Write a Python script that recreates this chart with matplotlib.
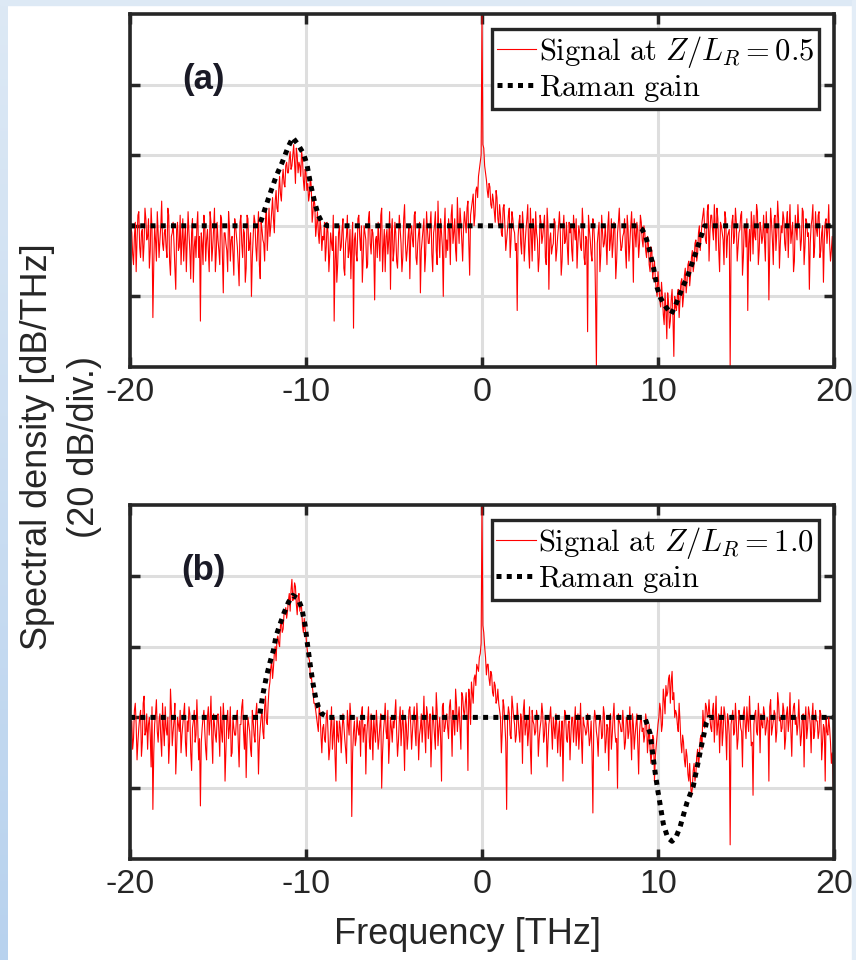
import numpy as np
import matplotlib
matplotlib.use('Agg')
import matplotlib.pyplot as plt

plt.rcParams['font.family'] = ['Liberation Sans', 'DejaVu Sans']
plt.rcParams['mathtext.fontset'] = 'cm'
plt.rcParams['axes.unicode_minus'] = False

# ---- data (y in 0..100 = 5 divisions of 20 dB) ----
freq = np.linspace(-20, 20, 401)           # samples on the 0.1 THz grid
freq_mid = np.linspace(-19.95, 19.95, 400)  # samples half-way between them

# signal at Z/L_R = 0.5, one row per THz
signal_a = [
    33, 38, 29, 41, 36, 44, 31, 39, 35, 42,
    37, 28, 45, 14, 40, 30, 38, 36, 47, 33,
    39, 31, 43, 26, 38, 35, 22, 41, 34, 29,
    42, 36, 27, 44, 33, 38, 24, 37, 40, 31,
    13, 35, 43, 30, 39, 27, 41, 34, 45, 32,
    36, 29, 42, 21, 38, 33, 44, 30, 37, 26,
    40, 34, 23, 43, 31, 38, 28, 42, 35, 20,
    37, 41, 30, 44, 25, 39, 35, 42, 33, 45,
    40, 48, 38, 50, 44, 54, 47, 56, 51, 58,
    55, 61, 57, 63, 52, 60, 58, 54, 59, 50,
    55, 52, 49, 51, 44, 46, 40, 38, 42, 33,
    36, 30, 41, 27, 38, 33, 13, 37, 29, 40,
    34, 42, 26, 37, 31, 39, 35, 11, 38, 30,
    43, 33, 24, 40, 36, 29, 44, 32, 38, 19,
    37, 41, 30, 45, 34, 27, 39, 36, 22, 42,
    33, 38, 28, 43, 35, 31, 46, 30, 37, 25,
    40, 34, 44, 29, 38, 21, 36, 42, 32, 39,
    35, 44, 27, 40, 33, 47, 31, 38, 20, 45,
    36, 42, 29, 46, 38, 33, 48, 35, 41, 30,
    44, 38, 47, 26, 45, 49, 43, 51, 54, 58,
    100,
    62, 55, 50, 52, 46, 49, 44, 50, 42, 46,
    38, 45, 40, 36, 43, 31, 44, 39, 33, 16,
    41, 35, 44, 30, 39, 46, 28, 37, 42, 33,
    38, 27, 43, 35, 40, 31, 45, 22, 38, 34,
    42, 30, 37, 44, 26, 39, 35, 41, 29, 38,
    33, 43, 36, 28, 40, 34, 45, 31, 37, 10,
    39, 32, 42, 35, 0, 38, 27, 43, 34, 40,
    29, 44, 36, 31, 41, 25, 38, 45, 33, 37,
    42, 28, 39, 35, 44, 24, 38, 41, 31, 43,
    36, 40, 33, 37, 29, 34, 25, 30, 22, 27,
    19, 24, 15, 21, 8, 18, 13, 22, 3, 17,
    20, 14, 24, 17, 26, 21, 29, 23, 31, 27,
    35, 30, 38, 33, 41, 45, 36, 44, 30, 43,
    39, 46, 33, 42, 27, 40, 36, 44, 31, 38,
    0, 41, 35, 45, 30, 38, 43, 26, 40, 34,
    16, 39, 44, 32, 37, 46, 29, 41, 35, 43,
    30, 38, 19, 45, 36, 42, 33, 47, 28, 40,
    44, 35, 41, 31, 46, 38, 27, 43, 36, 40,
    33, 45, 29, 42, 37, 22, 40, 46, 34, 39,
    43, 31, 38, 24, 41, 35, 46, 30, 37, 10,
]
signal_a_mid = [
    40, 32, 37, 27, 43, 34, 38, 30, 45, 36,
    42, 33, 39, 29, 36, 44, 31, 40, 35, 38,
    34, 45, 30, 37, 41, 28, 39, 33, 43, 36,
    30, 40, 35, 38, 25, 42, 34, 31, 44, 37,
    38, 29, 40, 36, 33, 44, 30, 39, 27, 41,
    33, 43, 31, 38, 35, 27, 40, 36, 32, 42,
    37, 29, 41, 35, 39, 24, 43, 33, 38, 31,
    43, 34, 38, 29, 41, 36, 30, 45, 39, 37,
    44, 42, 47, 45, 50, 49, 53, 52, 57, 55,
    59, 56, 60, 58, 62, 55, 57, 61, 53, 56,
    50, 47, 54, 41, 48, 37, 44, 35, 39, 37,
    41, 34, 38, 32, 35, 43, 30, 24, 38, 33,
    39, 28, 35, 43, 33, 25, 41, 36, 32, 42,
    37, 40, 31, 38, 28, 42, 35, 39, 33, 36,
    31, 35, 43, 27, 39, 37, 32, 44, 38, 30,
    41, 30, 36, 39, 27, 42, 35, 33, 40, 37,
    36, 43, 31, 35, 41, 33, 39, 27, 44, 35,
    40, 32, 38, 44, 29, 37, 42, 34, 39, 31,
    33, 39, 43, 35, 42, 30, 40, 45, 36, 39,
    41, 45, 35, 43, 47, 40, 50, 48, 56, 60,
    63, 57, 53, 48, 51, 45, 47, 41, 48, 40,
    43, 37, 46, 33, 39, 45, 36, 42, 38, 35,
    37, 43, 32, 40, 35, 42, 33, 45, 30, 39,
    44, 36, 31, 41, 37, 43, 29, 40, 36, 32,
    35, 41, 33, 40, 38, 30, 43, 36, 34, 41,
    40, 30, 39, 42, 35, 38, 33, 40, 29, 36,
    43, 36, 30, 40, 20, 35, 41, 32, 38, 35,
    36, 40, 33, 42, 35, 39, 30, 41, 37, 34,
    38, 33, 43, 30, 40, 36, 42, 34, 39, 35,
    41, 34, 38, 31, 35, 27, 33, 28, 25, 20,
    23, 17, 20, 12, 16, 21, 11, 19, 14, 20,
    16, 22, 19, 25, 20, 28, 24, 30, 26, 33,
    29, 36, 32, 40, 37, 43, 39, 35, 46, 38,
    43, 36, 40, 45, 33, 41, 38, 29, 42, 37,
    39, 33, 43, 37, 41, 34, 39, 44, 31, 40,
    42, 35, 30, 40, 43, 36, 44, 33, 39, 37,
    36, 44, 40, 34, 41, 29, 43, 38, 42, 35,
    38, 42, 33, 44, 40, 35, 41, 30, 39, 46,
    40, 36, 44, 34, 41, 38, 35, 42, 31, 44,
    37, 44, 33, 40, 36, 42, 39, 35, 33, 28,
]

# signal at Z/L_R = 1.0
signal_b = [
    30, 39, 34, 44, 28, 37, 42, 33, 46, 36,
    31, 40, 26, 14, 38, 45, 33, 41, 29, 37,
    43, 35, 27, 48, 32, 39, 24, 40, 36, 30,
    38, 44, 29, 36, 41, 25, 39, 33, 45, 28,
    15, 37, 42, 31, 40, 35, 46, 27, 38, 33,
    41, 29, 36, 44, 22, 39, 34, 43, 30, 37,
    35, 42, 26, 38, 45, 31, 23, 40, 36, 29,
    39, 33, 44, 24, 37, 42, 34, 46, 38, 48,
    54, 51, 58, 56, 63, 60, 67, 65, 70, 68,
    73, 70, 79, 74, 77, 69, 75, 72, 66, 68,
    63, 58, 56, 52, 47, 44, 40, 36, 41, 30,
    38, 33, 42, 28, 37, 31, 40, 22, 35, 39,
    30, 41, 34, 27, 38, 44, 12, 36, 32, 40,
    35, 29, 43, 37, 24, 39, 33, 41, 28, 36,
    42, 31, 38, 20, 36, 44, 34, 27, 40, 33,
    37, 45, 29, 39, 32, 42, 25, 38, 35, 43,
    31, 40, 36, 44, 28, 37, 33, 46, 30, 41,
    38, 26, 43, 35, 47, 32, 40, 22, 44, 37,
    41, 34, 45, 29, 39, 48, 36, 43, 31, 46,
    40, 47, 25, 45, 50, 44, 52, 55, 53, 58,
    100,
    64, 57, 55, 51, 53, 47, 50, 44, 48, 42,
    30, 45, 38, 14, 43, 35, 46, 40, 33, 44,
    36, 41, 27, 45, 38, 32, 43, 24, 39, 35,
    42, 29, 37, 44, 33, 40, 26, 38, 43, 31,
    37, 41, 30, 39, 35, 22, 42, 34, 38, 28,
    40, 33, 43, 36, 31, 44, 27, 38, 35, 41,
    32, 39, 13, 42, 36, 29, 40, 34, 43, 30,
    38, 25, 41, 35, 44, 33, 20, 39, 36, 42,
    31, 40, 34, 43, 28, 38, 35, 41, 24, 39,
    36, 33, 41, 30, 38, 27, 35, 22, 32, 38,
    44, 36, 48, 41, 46, 51, 44, 53, 47, 42,
    38, 44, 33, 35, 28, 31, 24, 27, 18, 25,
    22, 29, 26, 34, 31, 38, 44, 40, 45, 37,
    42, 33, 46, 38, 30, 43, 36, 41, 28, 39,
    4, 40, 35, 44, 31, 42, 37, 26, 43, 34,
    39, 46, 32, 18, 41, 36, 44, 30, 38, 43,
    35, 40, 22, 45, 37, 42, 33, 47, 39, 36,
    44, 31, 41, 36, 47, 29, 43, 38, 35, 45,
    32, 40, 26, 43, 37, 41, 30, 44, 36, 39,
    34, 42, 28, 38, 22, 36, 40, 33, 30, 16,
]
signal_b_mid = [
    36, 31, 42, 38, 33, 40, 29, 44, 35, 41,
    38, 35, 43, 30, 41, 36, 39, 34, 44, 32,
    37, 40, 33, 42, 36, 44, 31, 38, 42, 35,
    41, 33, 39, 43, 30, 37, 42, 35, 38, 34,
    33, 40, 36, 28, 43, 39, 34, 41, 35, 40,
    36, 43, 33, 39, 31, 42, 37, 29, 40, 35,
    40, 33, 38, 43, 36, 40, 34, 38, 31, 42,
    35, 41, 37, 33, 40, 36, 43, 39, 44, 50,
    56, 54, 60, 62, 61, 66, 64, 69, 71, 70,
    75, 76, 73, 78, 72, 74, 70, 71, 64, 65,
    60, 57, 51, 49, 44, 42, 38, 43, 35, 37,
    34, 40, 36, 31, 43, 35, 29, 39, 33, 37,
    36, 38, 31, 42, 35, 40, 30, 39, 34, 37,
    39, 41, 33, 38, 35, 43, 31, 36, 40, 33,
    37, 34, 41, 30, 39, 36, 42, 33, 37, 39,
    41, 36, 33, 43, 37, 35, 40, 31, 42, 38,
    36, 43, 32, 39, 35, 41, 38, 36, 43, 34,
    41, 35, 39, 31, 42, 37, 34, 43, 36, 40,
    37, 43, 39, 42, 35, 44, 40, 37, 47, 42,
    44, 41, 48, 38, 47, 51, 49, 54, 57, 61,
    66, 60, 52, 55, 49, 52, 46, 49, 45, 44,
    40, 36, 43, 33, 39, 41, 34, 43, 38, 35,
    40, 33, 39, 42, 35, 40, 36, 31, 42, 38,
    36, 40, 34, 39, 41, 35, 38, 33, 40, 37,
    40, 34, 38, 36, 29, 39, 36, 41, 33, 39,
    35, 40, 38, 32, 41, 36, 34, 40, 37, 36,
    37, 34, 30, 38, 40, 34, 37, 39, 35, 41,
    33, 37, 39, 31, 40, 36, 34, 41, 38, 36,
    37, 33, 40, 36, 35, 41, 31, 38, 33, 36,
    40, 37, 35, 39, 34, 31, 30, 34, 29, 35,
    40, 42, 38, 45, 49, 47, 52, 50, 45, 40,
    41, 36, 39, 30, 33, 26, 29, 22, 21, 20,
    27, 24, 31, 29, 35, 42, 37, 43, 41, 40,
    36, 44, 40, 35, 41, 38, 32, 43, 36, 41,
    35, 38, 42, 36, 39, 34, 40, 36, 41, 38,
    43, 36, 39, 33, 38, 42, 35, 40, 41, 37,
    41, 37, 39, 43, 35, 39, 41, 36, 44, 40,
    37, 42, 34, 43, 39, 36, 40, 44, 40, 38,
    38, 35, 41, 39, 34, 43, 38, 40, 34, 42,
    39, 36, 41, 33, 37, 40, 35, 37, 27, 22,
]

# Raman gain curves
raman_a_freq = [-20, -12.65, -12.35, -12.05, -11.7, -11.35, -11.0, -10.75, -10.45,
                -10.15, -9.95, -9.75, -9.5, -9.3, -9.1, -8.8,
                8.8, 9.1, 9.3, 9.5, 9.75, 9.95, 10.15, 10.45, 10.75, 11.0,
                11.35, 11.7, 12.05, 12.35, 12.65, 20]
raman_a_gain = [40, 40, 44.5, 49, 54, 58, 62.5, 65, 63, 60.5, 57.5, 52, 46.5, 43, 41, 40,
                40, 39, 37, 33.5, 28, 22.5, 19.5, 17, 15, 17.5, 22, 26, 31, 35.5, 40, 40]

raman_b_freq = [-20, -12.65, -12.45, -12.25, -12.05, -11.85, -11.7, -11.5, -11.25,
                -11.0, -10.75, -10.45, -10.25, -10.05, -9.9, -9.75, -9.6, -9.45,
                -9.3, -9.1, -8.7,
                9.25, 9.55, 9.85, 10.0, 10.3, 10.55, 10.8, 11.05, 11.25, 11.65,
                12.0, 12.45, 12.75, 12.9, 20]
raman_b_gain = [40, 40, 46.5, 51.5, 55.5, 59, 63, 66, 69.5, 72.5, 74.5, 73.5, 71, 66,
                60, 54.5, 49.5, 45.5, 43, 41, 40,
                40, 35.5, 24, 19, 10, 6, 5, 6.5, 9, 16, 20.5, 31.5, 38.5, 40, 40]

panels = [
    ('(a)', signal_a, signal_a_mid, raman_a_freq, raman_a_gain,
     r'$\mathrm{Signal\ at}\ Z/L_R=0.5$'),
    ('(b)', signal_b, signal_b_mid, raman_b_freq, raman_b_gain,
     r'$\mathrm{Signal\ at}\ Z/L_R=1.0$'),
]

txt = '#262626'
fs = 26
fig = plt.figure(figsize=(8.56, 9.6), dpi=100)

# slide background strips
grad = np.linspace(0, 1, 256).reshape(-1, 1)
bg = fig.add_axes([0, 0, 8 / 856, 1])
bg.imshow(grad, aspect='auto', cmap=matplotlib.colors.LinearSegmentedColormap.from_list(
    'bg', ['#b8d2ee', '#dde9f5']), origin='lower')
bg.axis('off')
fig.patches.append(plt.Rectangle((0, 1 - 5 / 960), 1, 5 / 960, transform=fig.transFigure,
                                 color='#dde9f5', zorder=0))
fig.patches.append(plt.Rectangle((1 - 4 / 856, 0), 4 / 856, 1, transform=fig.transFigure,
                                 color='#e3edf7', zorder=0))

positions = [[130 / 856, 1 - 367 / 960, 704 / 856, 353 / 960],
             [130 / 856, 1 - 859 / 960, 704 / 856, 354 / 960]]

for pos, (tag, sig, sig_mid, rf, rg, lab) in zip(positions, panels):
    ax = fig.add_axes(pos)
    # merge the two sample sets into one trace
    f_all = np.concatenate([freq, freq_mid])
    s_all = np.concatenate([sig, sig_mid])
    order = np.argsort(f_all)
    ax.plot(f_all[order], s_all[order], color='#ff0000', lw=0.8, label=lab, zorder=3)
    ax.plot(rf, rg, color='black', lw=3.6, linestyle=(0, (1, 1.05)),
            dash_capstyle='butt', label=r'$\mathrm{Raman\ gain}$', zorder=4)
    ax.set_xlim(-20, 20)
    ax.set_ylim(0, 100)
    ax.set_xticks([-20, -10, 0, 10, 20])
    ax.set_yticks([20, 40, 60, 80])
    ax.set_yticklabels([])
    ax.grid(True, color='#dedede', lw=2.2)
    ax.set_axisbelow(True)
    ax.tick_params(direction='in', length=7, width=2.5, color=txt, top=True, right=True,
                   labelsize=24.5, labelcolor=txt, pad=7)
    for s in ax.spines.values():
        s.set_linewidth(2.6)
        s.set_color(txt)
        s.set_zorder(6)
    ax.text(-15.8, 81.5, tag, fontsize=25, fontweight='bold', color='#1a1a26',
            ha='center', va='center')
    leg = ax.legend(loc='upper right', fontsize=22, handlelength=1.3, handletextpad=0.08,
                    borderpad=0.15, labelspacing=0.1, borderaxespad=0.5, fancybox=False,
                    framealpha=1)
    leg.get_frame().set_edgecolor(txt)
    leg.get_frame().set_linewidth(2.4)
    leg.set_zorder(7)

fig.text(468 / 856, 1 - 935 / 960, 'Frequency [THz]', fontsize=fs, color=txt,
         ha='center', va='center')
fig.text(61 / 856, 1 - 447 / 960, 'Spectral density [dB/THz]\n(20 dB/div.)',
         fontsize=fs, color=txt, rotation=90, ha='center', va='center',
         multialignment='center', linespacing=1.42)

fig.savefig('out.png', dpi=100)
